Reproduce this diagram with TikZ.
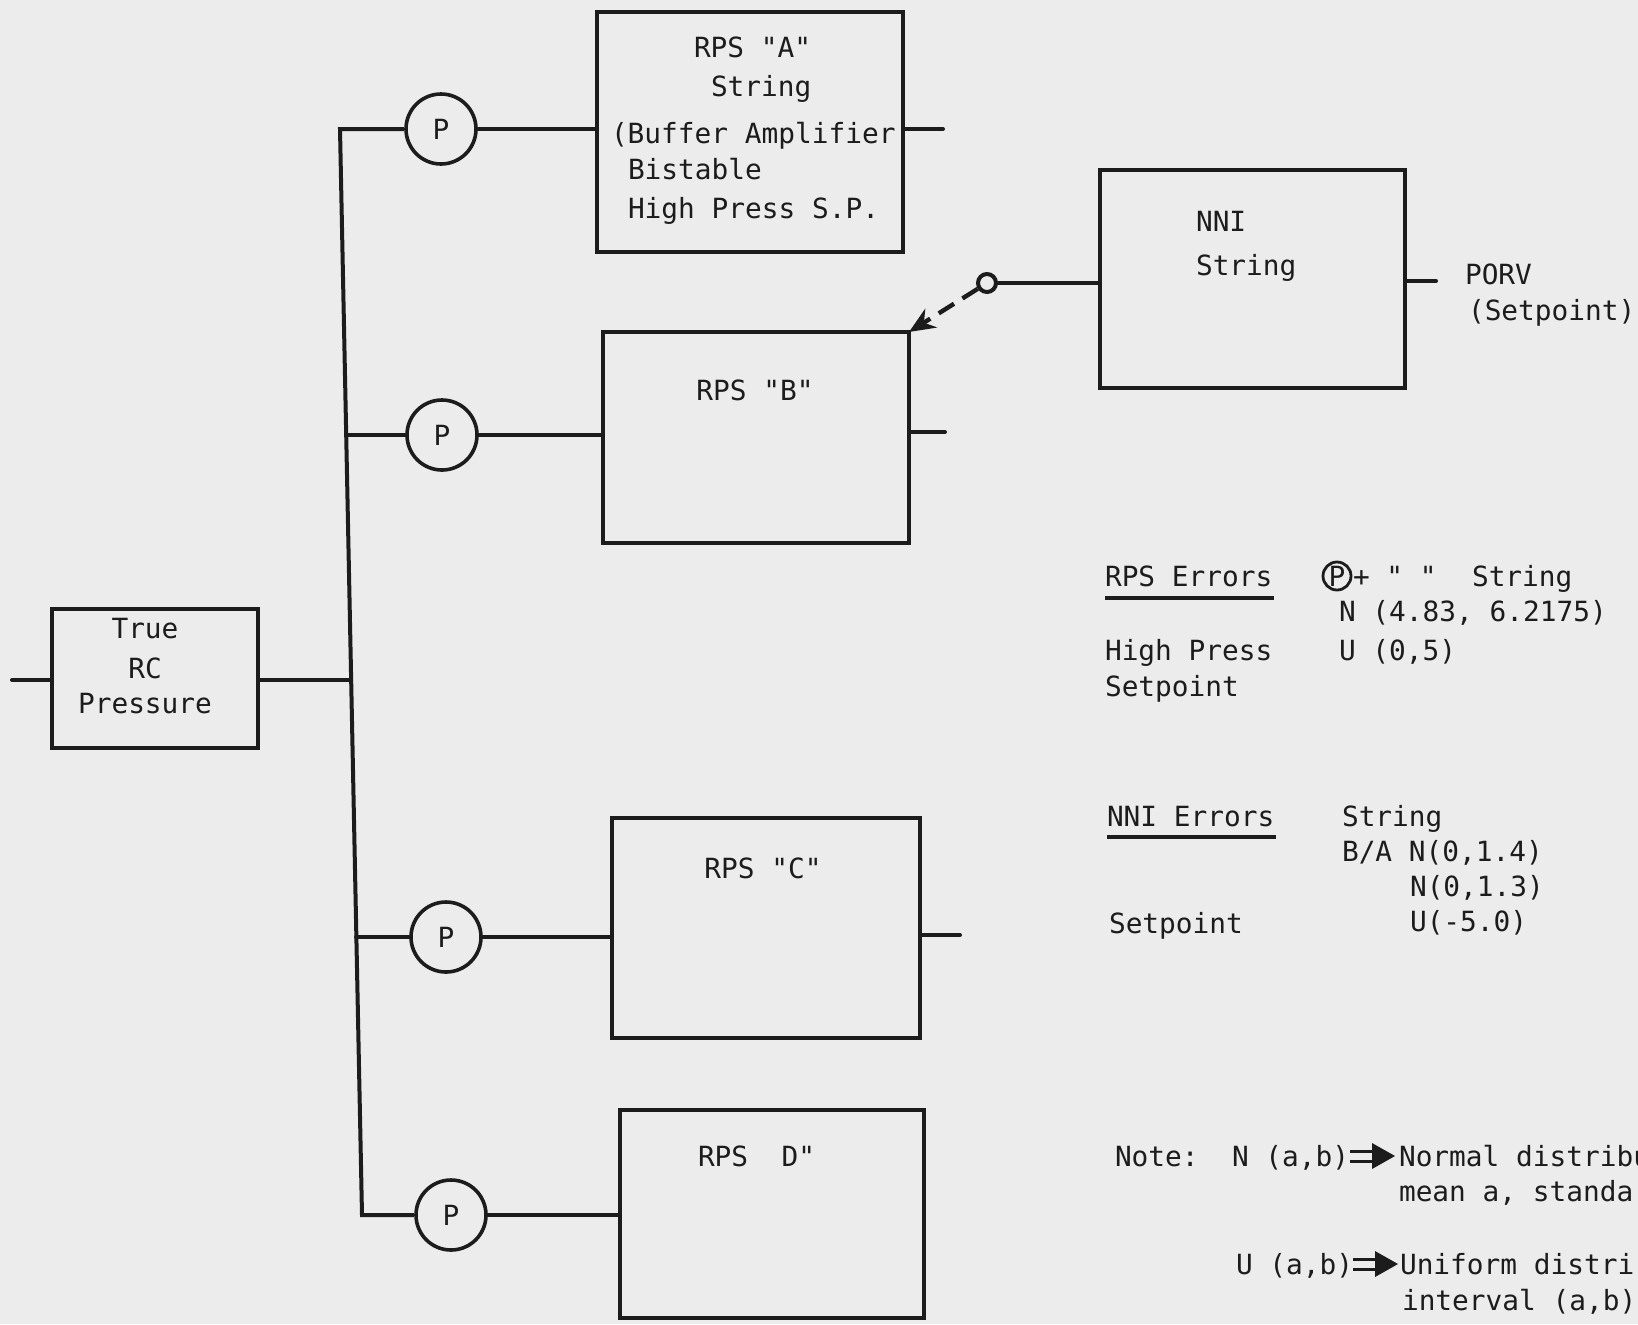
\documentclass[tikz,border=0pt]{standalone}
\usepackage{fontspec}
\setmonofont{DejaVu Sans Mono}
\usetikzlibrary{arrows.meta,fit}
\definecolor{paper}{RGB}{236,236,236}
\definecolor{ink}{RGB}{28,28,28}
\tikzset{
  box/.style={draw=ink, line width=2.2pt, inner sep=0pt, outer sep=0pt, rectangle},
  wire/.style={draw=ink, line width=2pt, line cap=round},
  pcirc/.style={draw=ink, circle, line width=1.8pt, minimum size=35pt, inner sep=0pt,
    font=\ttfamily\fontsize{13.9}{16}\selectfont, text=ink},
  txt/.style={anchor=base west, inner sep=0pt, outer sep=0pt, text=ink,
    font=\ttfamily\fontsize{13.9}{16}\selectfont},
  ctxt/.style={txt, anchor=base},
  dotc/.style={draw=ink, circle, line width=2pt, minimum size=9pt, inner sep=0pt, fill=paper},
}
\begin{document}
\begin{tikzpicture}[x=0.5pt,y=-0.5pt]
\useasboundingbox (0,0) rectangle (1638,1324);
\fill[paper] (0,0) rectangle (1638,1324);
\clip (0,0) rectangle (1638,1324);

% ---------------- RPS A ----------------
\node[box, fit={(597,12) (903,252)}] (rpsA) {};
\node[txt] (a1) at (694,57) {RPS "A"};
\node[txt] (a2) at (711,96) {String};
\node[txt] (a3) at (611,143) {(Buffer Amplifier};
\node[txt] (a4) at (628,179) {Bistable};
\node[txt] (a5) at (628,218) {High Press S.P.};
\node[pcirc] (p1) at (441,129) {P};
\coordinate (b1) at (340,129);
\coordinate (oA) at (943,129);
\draw[wire] (p1.east) -- (p1.east -| rpsA.west);
\draw[wire] (rpsA.east |- oA) -- (oA);

% ---------------- RPS B ----------------
\node[box, fit={(603,332) (909,543)}] (rpsB) {};
\node[ctxt] (bt) at (755,400) {RPS "B"};
\node[pcirc] (p2) at (442,435) {P};
\coordinate (b2) at (346,435);
\coordinate (oB) at (945,432);
\draw[wire] (b2) -- (p2.west);
\draw[wire] (p2.east) -- (p2.east -| rpsB.west);
\draw[wire] (rpsB.east |- oB) -- (oB);

% ---------------- NNI ----------------
\node[box, fit={(1100,170) (1405,388)}] (nni) {};
\node[txt] (n1) at (1196,231) {NNI};
\node[txt] (n2) at (1196,275) {String};
\node[dotc] (dot) at (987,283) {};
\draw[wire] (dot.east) -- (dot.east -| nni.west);
\draw[draw=ink, line width=2.2pt, dash pattern=on 9pt off 5pt,
  -{Stealth[length=13pt,width=11pt]}] (dot) -- (rpsB.north east);
\coordinate (oN) at (1436,281);
\draw[wire] (nni.east |- oN) -- (oN);
\node[txt] (porv) at (1465,284) {PORV};
\node[txt] (porvs) at (1468,320) {(Setpoint)};

% ---------------- True RC Pressure ----------------
\node[box, fit={(52,609) (258,748)}] (tru) {};
\node[ctxt] (t1) at (145,638) {True};
\node[ctxt] (t2) at (145,678) {RC};
\node[ctxt] (t3) at (145,713) {Pressure};
\coordinate (iT) at (12,680);
\coordinate (bT) at (351,680);
\draw[wire] (iT) -- (iT -| tru.west);
\draw[wire] (tru.east |- bT) -- (bT);

% ---------------- RPS C ----------------
\node[box, fit={(612,818) (920,1038)}] (rpsC) {};
\node[ctxt] (ct) at (763,878) {RPS "C"};
\node[pcirc] (p3) at (446,937) {P};
\coordinate (b3) at (356,937);
\coordinate (oC) at (960,935);
\draw[wire] (b3) -- (p3.west);
\draw[wire] (p3.east) -- (p3.east -| rpsC.west);
\draw[wire] (rpsC.east |- oC) -- (oC);

% ---------------- RPS D ----------------
\node[box, fit={(620,1110) (924,1318)}] (rpsD) {};
\node[txt] (dt) at (698,1166) {RPS\ \ D"};
\node[pcirc] (p4) at (451,1215) {P};
\coordinate (b4) at (362,1215);
\draw[wire] (p4.east) -- (p4.east -| rpsD.west);

% ---------------- bus ----------------
\draw[wire, line cap=butt, line join=miter] (p1.west) -- (b1) -- (b4) -- (p4.west);

% ---------------- RPS Errors ----------------
\node[txt] (re) at (1105,586) {RPS Errors};
\draw[ink, line width=2.4pt] (1105,598) -- (1274,598);
\node[pcirc, minimum size=14pt, line width=1.4pt] (pl) at (1337,576) {P};
\node[txt] (plus) at (1353,586) {+ " "};
\node[txt] (rs) at (1472,586) {String};
\node[txt] (rn) at (1339,621) {N (4.83, 6.2175)};
\node[txt] (hp) at (1105,660) {High Press};
\node[txt] (ru) at (1339,660) {U (0,5)};
\node[txt] (sp1) at (1105,696) {Setpoint};

% ---------------- NNI Errors ----------------
\node[txt] (ne) at (1107,826) {NNI Errors};
\draw[ink, line width=2.4pt] (1107,837) -- (1276,837);
\node[txt] (ns) at (1342,826) {String};
\node[txt] (nba) at (1342,861) {B/A N(0,1.4)};
\node[txt] (nn) at (1410,896) {N(0,1.3)};
\node[txt] (nu) at (1410,931) {U(-5.0)};
\node[txt] (sp2) at (1109,933) {Setpoint};

% ---------------- Note ----------------
\node[txt] (note) at (1115,1166) {Note:};
\node[txt] (nab) at (1232,1166) {N (a,b)};
\draw[ink, line width=1.5pt] (1350,1151) -- (1377,1151) (1350,1161) -- (1377,1161);
\fill[ink] (1372,1143) -- (1395,1156) -- (1372,1169) -- cycle;
\node[txt] (nd1) at (1399,1166) {Normal distribu};
\node[txt] (nd2) at (1399,1201) {mean a, standa};
\node[txt] (uab) at (1236,1274) {U (a,b)};
\draw[ink, line width=1.5pt] (1353,1259) -- (1380,1259) (1353,1269) -- (1380,1269);
\fill[ink] (1375,1251) -- (1398,1264) -- (1375,1277) -- cycle;
\node[txt] (ud1) at (1400,1274) {Uniform distri};
\node[txt] (ud2) at (1402,1310) {interval (a,b)};
\end{tikzpicture}
\end{document}
